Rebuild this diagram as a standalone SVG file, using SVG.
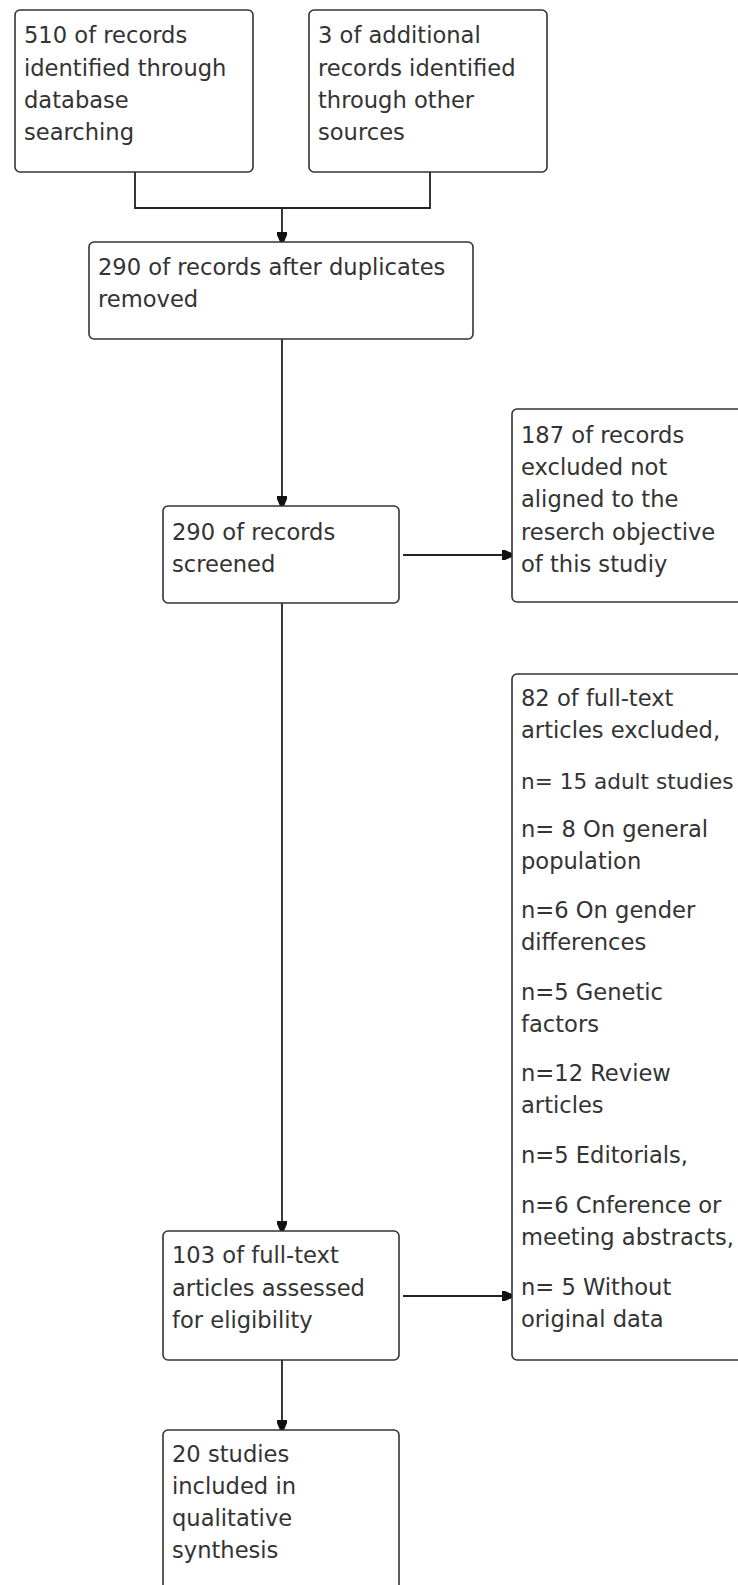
<svg xmlns="http://www.w3.org/2000/svg" width="738" height="1585" viewBox="0 0 738 1585">
<style>
.box{fill:#fff;stroke:#333;stroke-width:1.6}
.t{font-family:"DejaVu Sans",sans-serif;font-size:22.6px;fill:#333}
.c{fill:none;stroke:#222;stroke-width:1.8}
</style>
<defs>
<marker id="ah" markerUnits="userSpaceOnUse" viewBox="0 -6 12 12" markerWidth="12" markerHeight="12" refX="11" refY="0" orient="auto">
<path d="M1,-5 L4,-5 L11,-2 L11,2 L4,5 L1,5 Z" fill="#111"/>
</marker>
</defs>
<rect width="738" height="1585" fill="#fff"/>
<g id="connectors">
<path class="c" d="M135,172 V208 H430 V172"/>
<path class="c" d="M282,208 V242" marker-end="url(#ah)"/>
<path class="c" d="M282,339 V506" marker-end="url(#ah)"/>
<path class="c" d="M282,603 V1231" marker-end="url(#ah)"/>
<path class="c" d="M282,1360 V1430" marker-end="url(#ah)"/>
<path class="c" d="M403,555 H512" marker-end="url(#ah)"/>
<path class="c" d="M403,1296 H512" marker-end="url(#ah)"/>
</g>
<g id="n1">
<rect class="box" x="15" y="10" width="238" height="162" rx="5"/>
<text class="t" x="24" y="43">510 of records</text>
<text class="t" x="24" y="76">identified through</text>
<text class="t" x="24" y="108">database</text>
<text class="t" x="24" y="140">searching</text>
</g>
<g id="n2">
<rect class="box" x="309" y="10" width="238" height="162" rx="5"/>
<text class="t" x="318" y="43">3 of additional</text>
<text class="t" x="318" y="76">records identified</text>
<text class="t" x="318" y="108">through other</text>
<text class="t" x="318" y="140">sources</text>
</g>
<g id="n3">
<rect class="box" x="89" y="242" width="384" height="97" rx="5"/>
<text class="t" x="98" y="275">290 of records after duplicates</text>
<text class="t" x="98" y="307">removed</text>
</g>
<g id="n4">
<rect class="box" x="512" y="409" width="240" height="193" rx="5"/>
<text class="t" x="521" y="443">187 of records</text>
<text class="t" x="521" y="475">excluded not</text>
<text class="t" x="521" y="507">aligned to the</text>
<text class="t" x="521" y="540">reserch objective</text>
<text class="t" x="521" y="572">of this studiy</text>
</g>
<g id="n5">
<rect class="box" x="163" y="506" width="236" height="97" rx="5"/>
<text class="t" x="172" y="540">290 of records</text>
<text class="t" x="172" y="572">screened</text>
</g>
<g id="n6">
<rect class="box" x="512" y="674" width="240" height="686" rx="5"/>
<text class="t" x="521" y="706">82 of full-text</text>
<text class="t" x="521" y="738">articles excluded,</text>
<text class="t" x="521" y="789" style="font-size:21.6px">n= 15 adult studies</text>
<text class="t" x="521" y="837">n= 8 On general</text>
<text class="t" x="521" y="869">population</text>
<text class="t" x="521" y="918">n=6 On gender</text>
<text class="t" x="521" y="950">differences</text>
<text class="t" x="521" y="1000">n=5 Genetic</text>
<text class="t" x="521" y="1032">factors</text>
<text class="t" x="521" y="1081">n=12 Review</text>
<text class="t" x="521" y="1113">articles</text>
<text class="t" x="521" y="1163">n=5 Editorials,</text>
<text class="t" x="521" y="1213">n=6 Cnference or</text>
<text class="t" x="521" y="1245">meeting abstracts,</text>
<text class="t" x="521" y="1295">n= 5 Without</text>
<text class="t" x="521" y="1327">original data</text>
</g>
<g id="n7">
<rect class="box" x="163" y="1231" width="236" height="129" rx="5"/>
<text class="t" x="172" y="1263">103 of full-text</text>
<text class="t" x="172" y="1296">articles assessed</text>
<text class="t" x="172" y="1328">for eligibility</text>
</g>
<g id="n8">
<rect class="box" x="163" y="1430" width="236" height="175" rx="5"/>
<text class="t" x="172" y="1462">20 studies</text>
<text class="t" x="172" y="1494">included in</text>
<text class="t" x="172" y="1526">qualitative</text>
<text class="t" x="172" y="1558">synthesis</text>
</g>
</svg>
